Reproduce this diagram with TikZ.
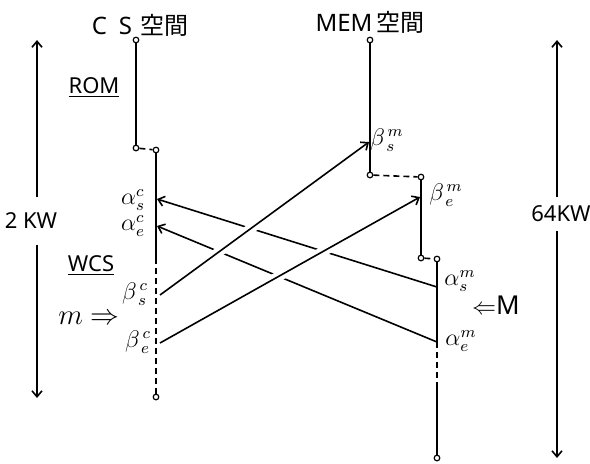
\documentclass[tikz,border=0pt]{standalone}
\usepackage{fontspec}
\setmainfont{Noto Sans}
\newfontfamily\jpfont{Noto Sans CJK JP}
\usetikzlibrary{arrows.meta}

\begin{document}
\begin{tikzpicture}[x=0.5pt, y=-0.5pt, >={Straight Barb[length=3pt,width=5pt]},
        line width=0.8pt, font=\fontsize{11}{13}\selectfont,
        pt/.style={circle, draw, fill=white, inner sep=0pt, minimum size=2.8pt, line width=0.6pt},
        gap/.style={dash pattern=on 3pt off 2pt},
        halo/.style={draw=white, line width=5pt, shorten <=8pt, shorten >=8pt},
        lbl/.style={inner sep=1pt, font=\fontsize{12}{14}\selectfont}]
        \useasboundingbox (0,0) rectangle (590,463);

        % --- titles ---
        \node[font=\fontsize{12}{14}\selectfont] (csT) at (140,25) {C\,\,\,S\,\,{\jpfont 空間}};
        \node[font=\fontsize{12}{14}\selectfont] (memT) at (370,22) {MEM\,{\jpfont 空間}};
        \node (rom) at (94,88) {\underline{ROM}};
        \node (wcs) at (91,266) {\underline{WCS}};

        % --- address ranges ---
        \coordinate (lTop) at (37,40);
        \coordinate (lBot) at (37,398);
        \node[minimum height=23pt] (kwL) at (31,221) {2 KW};
        \draw[->] (kwL.north -| lTop) -- (lTop);
        \draw[->] (kwL.south -| lBot) -- (lBot);
        \coordinate (rTop) at (557,40);
        \coordinate (rBot) at (557,458);
        \node[minimum height=16pt] (kwR) at (561,214) {64KW};
        \draw[->] (kwR.north -| rTop) -- (rTop);
        \draw[->] (kwR.south -| rBot) -- (rBot);

        % --- CS space ---
        \node[pt] (cs0) at (136,40) {};
        \node[pt] (cs1) at (136,148) {};
        \node[pt] (cs2) at (156,150) {};
        \coordinate (cs3) at (156,258);
        \node[pt] (cs4) at (156,397) {};
        \draw (cs0) -- (cs1);
        \draw[gap] (cs1) -- (cs2);
        \draw (cs2) -- (cs3);
        \draw[gap] (cs3) -- (cs4);

        % --- MEM space ---
        \node[pt] (mem0) at (370,40) {};
        \node[pt] (mem1) at (370,175) {};
        \node[pt] (mem2) at (421,177) {};
        \node[pt] (mem3) at (421,258) {};
        \node[pt] (mem4) at (437,259) {};
        \coordinate (mem5) at (437,342);
        \coordinate (mem6) at (437,385);
        \node[pt] (mem7) at (437,458) {};
        \draw (mem0) -- (mem1);
        \draw[gap] (mem1) -- (mem2);
        \draw (mem2) -- (mem3);
        \draw[gap] (mem3) -- (mem4);
        \draw (mem4) -- (mem5);
        \draw[gap] (mem5) -- (mem6);
        \draw (mem6) -- (mem7);

        % --- transfer lines ---
        \coordinate (asC) at (157,199);
        \coordinate (aeC) at (157,226);
        \coordinate (bsC) at (160,295);
        \coordinate (beC) at (160,343);
        \coordinate (bsM) at (369,142);
        \coordinate (beM) at (420,197);
        \coordinate (asM) at (437,287);
        \coordinate (aeM) at (437,342);
        \draw[->] (asM) -- (asC);
        \draw[->] (aeM) -- (aeC);
        \draw[halo] (bsC) -- (bsM);
        \draw[->] (bsC) -- (bsM);
        \draw[halo] (beC) -- (beM);
        \draw[->] (beC) -- (beM);

        % --- labels ---
        \node[lbl] (asCl) at (133,200) {$\alpha_s^c$};
        \node[lbl] (aeCl) at (133,226) {$\alpha_e^c$};
        \node[lbl] (bsCl) at (135,294) {$\beta_{\,s}^{\,c}$};
        \node[lbl] (beCl) at (138,342) {$\beta_{\,e}^{\,c}$};
        \node[lbl] (bsMl) at (387,140) {$\beta_{\,s}^{\,m}$};
        \node[lbl] (beMl) at (446,195) {$\beta_{\,e}^{\,m}$};
        \node[lbl] (asMl) at (460,281) {$\alpha_s^m$};
        \node[lbl] (aeMl) at (461,341) {$\alpha_e^m$};
        \node[lbl, font=\fontsize{14}{16}\selectfont] (mIn) at (89,318) {$m\Rightarrow$};
        \node[lbl, font=\fontsize{13}{15}\selectfont] (MIn) at (496,305) {$\Leftarrow$M};
\end{tikzpicture}
\end{document}
